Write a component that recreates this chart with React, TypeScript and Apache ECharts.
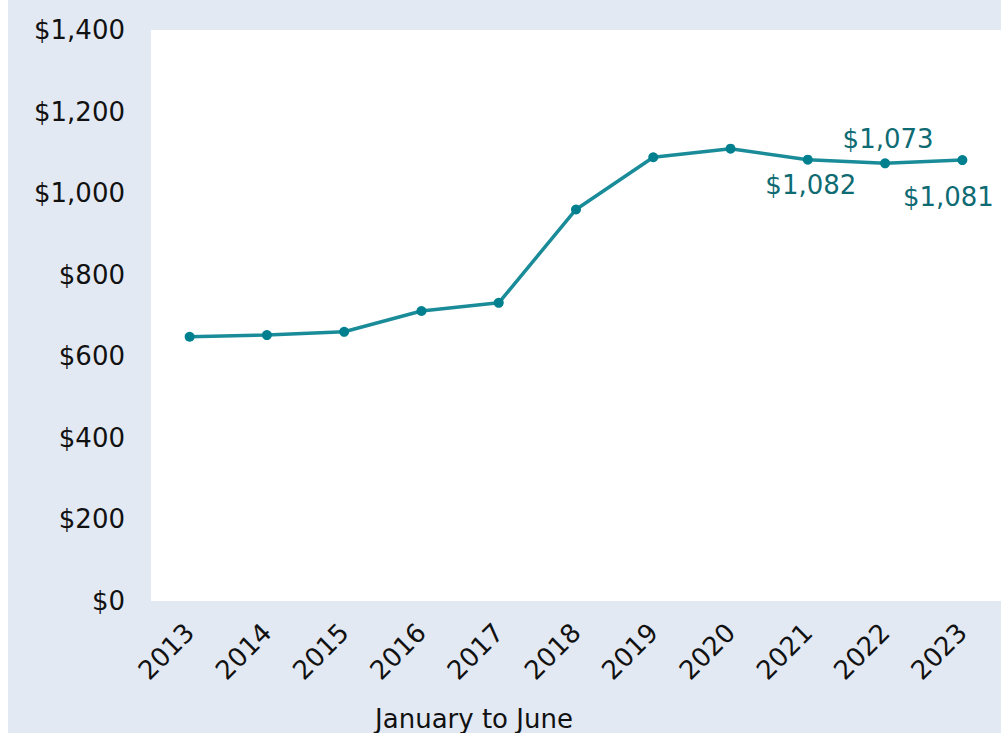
import React, { useEffect, useRef } from "react";
import * as echarts from "echarts";

const years = ["2013", "2014", "2015", "2016", "2017", "2018", "2019", "2020", "2021", "2022", "2023"];
const values = [648, 652, 660, 711, 731, 960, 1088, 1109, 1082, 1073, 1081];
const labelled: Record<string, "top" | "bottom"> = { "2021": "bottom", "2022": "top", "2023": "bottom" };
const axisTitle = "January to June";

const FONT = "Verdana, DejaVu Sans, sans-serif";
const fmt = (v: number) => "$" + v.toLocaleString("en-US");

export default function App() {
  const ref = useRef<HTMLDivElement>(null);
  useEffect(() => {
    if (!ref.current) return;
    const chart = echarts.init(ref.current, undefined, { renderer: "svg" });
    const data = values.map((v, i) => {
      const pos = labelled[years[i]];
      if (!pos) return v;
      return {
        value: v,
        label: {
          show: true,
          position: pos,
          distance: pos === "top" ? 7 : 6,
          offset: years[i] === "2023" ? [-14, 13] : [3, 1],
          formatter: (p: any) => fmt(p.value),
          color: "#0f6b73",
          fontSize: 26,
          fontFamily: FONT,
        },
      };
    });
    chart.setOption({
      animation: false,
      backgroundColor: "#e3e9f3",
      grid: {
        left: 143,
        right: 0,
        top: 30,
        bottom: 132,
        show: true,
        backgroundColor: "#ffffff",
        borderWidth: 0,
        containLabel: false,
      },
      xAxis: {
        type: "category",
        data: years,
        boundaryGap: true,
        axisLine: { show: false },
        axisTick: { show: false },
        axisLabel: {
          rotate: 45,
          margin: 27,
          fontSize: 26,
          fontFamily: FONT,
          color: "#111",
          interval: 0,
        },
      },
      yAxis: {
        type: "value",
        min: 0,
        max: 1400,
        interval: 200,
        splitLine: { show: false },
        axisLine: { show: false },
        axisTick: { show: false },
        axisLabel: {
          margin: 26,
          fontSize: 26,
          fontFamily: FONT,
          color: "#111",
          formatter: (v: number) => fmt(v),
        },
      },
      graphic: [
        {
          type: "text",
          x: 474 - 8,
          y: 719,
          style: {
            text: axisTitle,
            fontSize: 26,
            fontFamily: FONT,
            fill: "#111",
            align: "center",
            verticalAlign: "middle",
          },
        },
      ],
      series: [
        {
          type: "line",
          data,
          symbol: "circle",
          symbolSize: 10,
          lineStyle: { color: "#1a8c99", width: 3.5 },
          itemStyle: { color: "#00808f" },
          label: { show: false },
        },
      ],
    });
    return () => chart.dispose();
  }, []);
  return (
    <div
      ref={ref}
      style={{ position: "absolute", left: 8, top: 0, width: 993, height: 733 }}
    />
  );
}
